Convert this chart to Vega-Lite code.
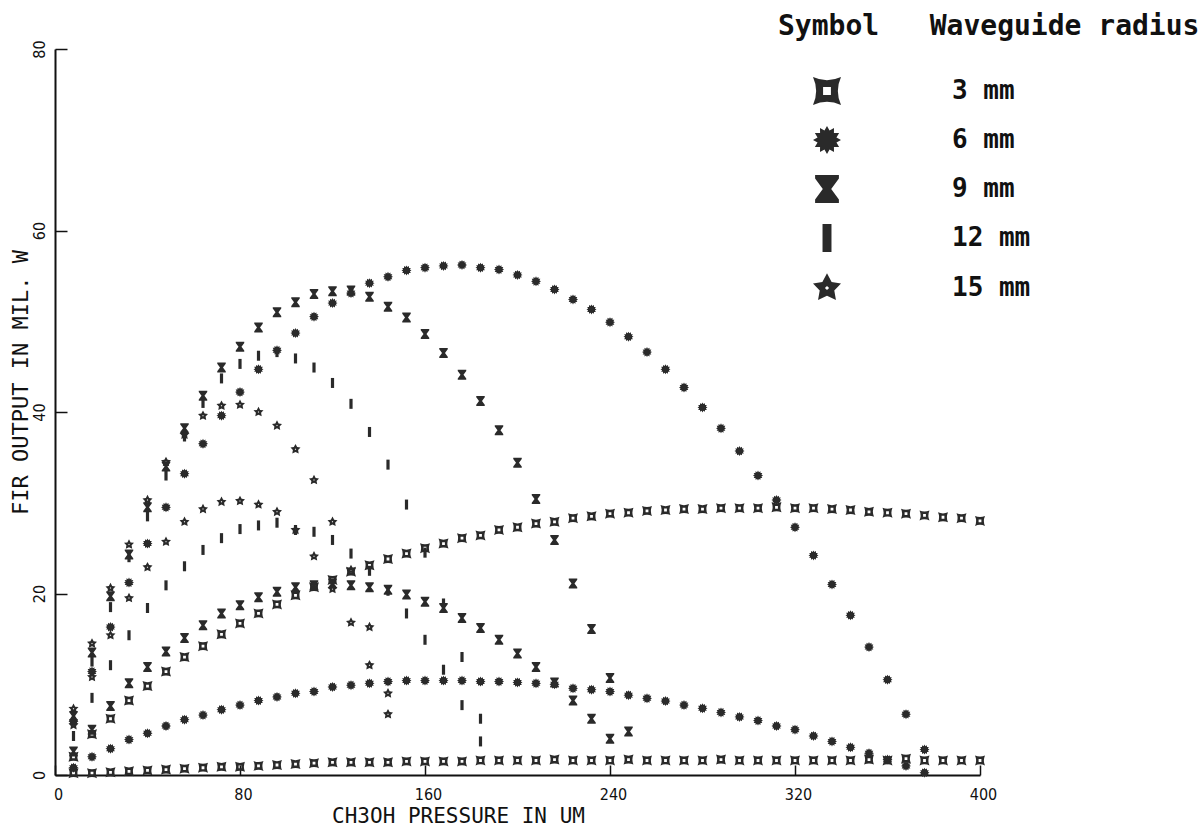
{
  "$schema": "https://vega.github.io/schema/vega-lite/v6.json",
  "width": 925,
  "height": 726,
  "autosize": {"type": "none"},
  "padding": {"left": 55, "top": 49, "right": 223, "bottom": 54},
  "background": "white",
  "config": {"view": {"stroke": null}},
  "datasets": {
    "pts": [
      {"pressure":8,"output":2.0,"radius":"3 mm"},{"pressure":16,"output":4.5,"radius":"3 mm"},{"pressure":24,"output":6.2,"radius":"3 mm"},{"pressure":32,"output":8.2,"radius":"3 mm"},{"pressure":40,"output":9.8,"radius":"3 mm"},{"pressure":48,"output":11.4,"radius":"3 mm"},{"pressure":56,"output":13.0,"radius":"3 mm"},{"pressure":64,"output":14.2,"radius":"3 mm"},{"pressure":72,"output":15.5,"radius":"3 mm"},{"pressure":80,"output":16.7,"radius":"3 mm"},{"pressure":88,"output":17.8,"radius":"3 mm"},{"pressure":96,"output":18.8,"radius":"3 mm"},{"pressure":104,"output":19.8,"radius":"3 mm"},{"pressure":112,"output":20.7,"radius":"3 mm"},{"pressure":120,"output":21.5,"radius":"3 mm"},{"pressure":128,"output":22.4,"radius":"3 mm"},{"pressure":136,"output":23.1,"radius":"3 mm"},{"pressure":144,"output":23.8,"radius":"3 mm"},{"pressure":152,"output":24.4,"radius":"3 mm"},{"pressure":160,"output":25.0,"radius":"3 mm"},{"pressure":168,"output":25.5,"radius":"3 mm"},{"pressure":176,"output":26.1,"radius":"3 mm"},{"pressure":184,"output":26.4,"radius":"3 mm"},{"pressure":192,"output":27.0,"radius":"3 mm"},{"pressure":200,"output":27.3,"radius":"3 mm"},{"pressure":208,"output":27.7,"radius":"3 mm"},{"pressure":216,"output":27.9,"radius":"3 mm"},{"pressure":224,"output":28.3,"radius":"3 mm"},{"pressure":232,"output":28.5,"radius":"3 mm"},{"pressure":240,"output":28.8,"radius":"3 mm"},{"pressure":248,"output":28.9,"radius":"3 mm"},{"pressure":256,"output":29.1,"radius":"3 mm"},{"pressure":264,"output":29.2,"radius":"3 mm"},{"pressure":272,"output":29.3,"radius":"3 mm"},{"pressure":280,"output":29.3,"radius":"3 mm"},{"pressure":288,"output":29.4,"radius":"3 mm"},{"pressure":296,"output":29.4,"radius":"3 mm"},{"pressure":304,"output":29.4,"radius":"3 mm"},{"pressure":312,"output":29.5,"radius":"3 mm"},{"pressure":320,"output":29.4,"radius":"3 mm"},{"pressure":328,"output":29.4,"radius":"3 mm"},{"pressure":336,"output":29.3,"radius":"3 mm"},{"pressure":344,"output":29.2,"radius":"3 mm"},{"pressure":352,"output":29.0,"radius":"3 mm"},{"pressure":360,"output":28.9,"radius":"3 mm"},{"pressure":368,"output":28.8,"radius":"3 mm"},{"pressure":376,"output":28.6,"radius":"3 mm"},{"pressure":384,"output":28.4,"radius":"3 mm"},{"pressure":392,"output":28.3,"radius":"3 mm"},{"pressure":400,"output":28.0,"radius":"3 mm"},

      {"pressure":8,"output":0.2,"radius":"3 mm"},{"pressure":16,"output":0.2,"radius":"3 mm"},{"pressure":24,"output":0.3,"radius":"3 mm"},{"pressure":32,"output":0.4,"radius":"3 mm"},{"pressure":40,"output":0.5,"radius":"3 mm"},{"pressure":48,"output":0.6,"radius":"3 mm"},{"pressure":56,"output":0.7,"radius":"3 mm"},{"pressure":64,"output":0.8,"radius":"3 mm"},{"pressure":72,"output":0.9,"radius":"3 mm"},{"pressure":80,"output":0.9,"radius":"3 mm"},{"pressure":88,"output":1.0,"radius":"3 mm"},{"pressure":96,"output":1.1,"radius":"3 mm"},{"pressure":104,"output":1.2,"radius":"3 mm"},{"pressure":112,"output":1.3,"radius":"3 mm"},{"pressure":120,"output":1.4,"radius":"3 mm"},{"pressure":128,"output":1.4,"radius":"3 mm"},{"pressure":136,"output":1.4,"radius":"3 mm"},{"pressure":144,"output":1.4,"radius":"3 mm"},{"pressure":152,"output":1.5,"radius":"3 mm"},{"pressure":160,"output":1.5,"radius":"3 mm"},{"pressure":168,"output":1.5,"radius":"3 mm"},{"pressure":176,"output":1.5,"radius":"3 mm"},{"pressure":184,"output":1.6,"radius":"3 mm"},{"pressure":192,"output":1.6,"radius":"3 mm"},{"pressure":200,"output":1.6,"radius":"3 mm"},{"pressure":208,"output":1.6,"radius":"3 mm"},{"pressure":216,"output":1.7,"radius":"3 mm"},{"pressure":224,"output":1.6,"radius":"3 mm"},{"pressure":232,"output":1.6,"radius":"3 mm"},{"pressure":240,"output":1.6,"radius":"3 mm"},{"pressure":248,"output":1.7,"radius":"3 mm"},{"pressure":256,"output":1.6,"radius":"3 mm"},{"pressure":264,"output":1.6,"radius":"3 mm"},{"pressure":272,"output":1.6,"radius":"3 mm"},{"pressure":280,"output":1.6,"radius":"3 mm"},{"pressure":288,"output":1.7,"radius":"3 mm"},{"pressure":296,"output":1.6,"radius":"3 mm"},{"pressure":304,"output":1.6,"radius":"3 mm"},{"pressure":312,"output":1.6,"radius":"3 mm"},{"pressure":320,"output":1.6,"radius":"3 mm"},{"pressure":328,"output":1.6,"radius":"3 mm"},{"pressure":336,"output":1.6,"radius":"3 mm"},{"pressure":344,"output":1.6,"radius":"3 mm"},{"pressure":352,"output":1.7,"radius":"3 mm"},{"pressure":360,"output":1.6,"radius":"3 mm"},{"pressure":368,"output":1.8,"radius":"3 mm"},{"pressure":376,"output":1.6,"radius":"3 mm"},{"pressure":384,"output":1.6,"radius":"3 mm"},{"pressure":392,"output":1.6,"radius":"3 mm"},{"pressure":400,"output":1.6,"radius":"3 mm"},

      {"pressure":8,"output":5.9,"radius":"6 mm"},{"pressure":16,"output":11.4,"radius":"6 mm"},{"pressure":24,"output":16.3,"radius":"6 mm"},{"pressure":32,"output":21.2,"radius":"6 mm"},{"pressure":40,"output":25.5,"radius":"6 mm"},{"pressure":48,"output":29.5,"radius":"6 mm"},{"pressure":56,"output":33.2,"radius":"6 mm"},{"pressure":64,"output":36.5,"radius":"6 mm"},{"pressure":72,"output":39.6,"radius":"6 mm"},{"pressure":80,"output":42.2,"radius":"6 mm"},{"pressure":88,"output":44.7,"radius":"6 mm"},{"pressure":96,"output":46.8,"radius":"6 mm"},{"pressure":104,"output":48.7,"radius":"6 mm"},{"pressure":112,"output":50.5,"radius":"6 mm"},{"pressure":120,"output":52.0,"radius":"6 mm"},{"pressure":128,"output":53.1,"radius":"6 mm"},{"pressure":136,"output":54.2,"radius":"6 mm"},{"pressure":144,"output":54.9,"radius":"6 mm"},{"pressure":152,"output":55.6,"radius":"6 mm"},{"pressure":160,"output":55.9,"radius":"6 mm"},{"pressure":168,"output":56.1,"radius":"6 mm"},{"pressure":176,"output":56.2,"radius":"6 mm"},{"pressure":184,"output":55.9,"radius":"6 mm"},{"pressure":192,"output":55.7,"radius":"6 mm"},{"pressure":200,"output":55.1,"radius":"6 mm"},{"pressure":208,"output":54.4,"radius":"6 mm"},{"pressure":216,"output":53.5,"radius":"6 mm"},{"pressure":224,"output":52.4,"radius":"6 mm"},{"pressure":232,"output":51.3,"radius":"6 mm"},{"pressure":240,"output":49.9,"radius":"6 mm"},{"pressure":248,"output":48.3,"radius":"6 mm"},{"pressure":256,"output":46.6,"radius":"6 mm"},{"pressure":264,"output":44.7,"radius":"6 mm"},{"pressure":272,"output":42.7,"radius":"6 mm"},{"pressure":280,"output":40.5,"radius":"6 mm"},{"pressure":288,"output":38.2,"radius":"6 mm"},{"pressure":296,"output":35.7,"radius":"6 mm"},{"pressure":304,"output":33.0,"radius":"6 mm"},{"pressure":312,"output":30.3,"radius":"6 mm"},{"pressure":320,"output":27.3,"radius":"6 mm"},{"pressure":328,"output":24.2,"radius":"6 mm"},{"pressure":336,"output":21.0,"radius":"6 mm"},{"pressure":344,"output":17.6,"radius":"6 mm"},{"pressure":352,"output":14.1,"radius":"6 mm"},{"pressure":360,"output":10.5,"radius":"6 mm"},{"pressure":368,"output":6.7,"radius":"6 mm"},{"pressure":376,"output":2.8,"radius":"6 mm"},

      {"pressure":8,"output":0.8,"radius":"6 mm"},{"pressure":16,"output":2.0,"radius":"6 mm"},{"pressure":24,"output":2.9,"radius":"6 mm"},{"pressure":32,"output":3.9,"radius":"6 mm"},{"pressure":40,"output":4.6,"radius":"6 mm"},{"pressure":48,"output":5.4,"radius":"6 mm"},{"pressure":56,"output":6.1,"radius":"6 mm"},{"pressure":64,"output":6.6,"radius":"6 mm"},{"pressure":72,"output":7.2,"radius":"6 mm"},{"pressure":80,"output":7.7,"radius":"6 mm"},{"pressure":88,"output":8.2,"radius":"6 mm"},{"pressure":96,"output":8.6,"radius":"6 mm"},{"pressure":104,"output":9.0,"radius":"6 mm"},{"pressure":112,"output":9.2,"radius":"6 mm"},{"pressure":120,"output":9.7,"radius":"6 mm"},{"pressure":128,"output":9.9,"radius":"6 mm"},{"pressure":136,"output":10.1,"radius":"6 mm"},{"pressure":144,"output":10.3,"radius":"6 mm"},{"pressure":152,"output":10.4,"radius":"6 mm"},{"pressure":160,"output":10.4,"radius":"6 mm"},{"pressure":168,"output":10.4,"radius":"6 mm"},{"pressure":176,"output":10.4,"radius":"6 mm"},{"pressure":184,"output":10.3,"radius":"6 mm"},{"pressure":192,"output":10.3,"radius":"6 mm"},{"pressure":200,"output":10.2,"radius":"6 mm"},{"pressure":208,"output":10.1,"radius":"6 mm"},{"pressure":216,"output":10.0,"radius":"6 mm"},{"pressure":224,"output":9.55,"radius":"6 mm"},{"pressure":232,"output":9.4,"radius":"6 mm"},{"pressure":240,"output":9.2,"radius":"6 mm"},{"pressure":248,"output":8.8,"radius":"6 mm"},{"pressure":256,"output":8.45,"radius":"6 mm"},{"pressure":264,"output":8.15,"radius":"6 mm"},{"pressure":272,"output":7.7,"radius":"6 mm"},{"pressure":280,"output":7.35,"radius":"6 mm"},{"pressure":288,"output":6.9,"radius":"6 mm"},{"pressure":296,"output":6.4,"radius":"6 mm"},{"pressure":304,"output":6.0,"radius":"6 mm"},{"pressure":312,"output":5.4,"radius":"6 mm"},{"pressure":320,"output":5.0,"radius":"6 mm"},{"pressure":328,"output":4.3,"radius":"6 mm"},{"pressure":336,"output":3.7,"radius":"6 mm"},{"pressure":344,"output":3.05,"radius":"6 mm"},{"pressure":352,"output":2.4,"radius":"6 mm"},{"pressure":360,"output":1.7,"radius":"6 mm"},{"pressure":368,"output":1.0,"radius":"6 mm"},{"pressure":376,"output":0.25,"radius":"6 mm"},

      {"pressure":8,"output":6.5,"radius":"9 mm"},{"pressure":16,"output":13.5,"radius":"9 mm"},{"pressure":24,"output":19.7,"radius":"9 mm"},{"pressure":32,"output":24.3,"radius":"9 mm"},{"pressure":40,"output":29.5,"radius":"9 mm"},{"pressure":48,"output":34.0,"radius":"9 mm"},{"pressure":56,"output":38.2,"radius":"9 mm"},{"pressure":64,"output":41.8,"radius":"9 mm"},{"pressure":72,"output":44.9,"radius":"9 mm"},{"pressure":80,"output":47.2,"radius":"9 mm"},{"pressure":88,"output":49.3,"radius":"9 mm"},{"pressure":96,"output":51.0,"radius":"9 mm"},{"pressure":104,"output":52.1,"radius":"9 mm"},{"pressure":112,"output":53.0,"radius":"9 mm"},{"pressure":120,"output":53.3,"radius":"9 mm"},{"pressure":128,"output":53.4,"radius":"9 mm"},{"pressure":136,"output":52.7,"radius":"9 mm"},{"pressure":144,"output":51.6,"radius":"9 mm"},{"pressure":152,"output":50.4,"radius":"9 mm"},{"pressure":160,"output":48.6,"radius":"9 mm"},{"pressure":168,"output":46.5,"radius":"9 mm"},{"pressure":176,"output":44.1,"radius":"9 mm"},{"pressure":184,"output":41.2,"radius":"9 mm"},{"pressure":192,"output":38.0,"radius":"9 mm"},{"pressure":200,"output":34.4,"radius":"9 mm"},{"pressure":208,"output":30.4,"radius":"9 mm"},{"pressure":216,"output":25.9,"radius":"9 mm"},{"pressure":224,"output":21.1,"radius":"9 mm"},{"pressure":232,"output":16.1,"radius":"9 mm"},{"pressure":240,"output":10.7,"radius":"9 mm"},{"pressure":248,"output":4.8,"radius":"9 mm"},

      {"pressure":8,"output":2.6,"radius":"9 mm"},{"pressure":16,"output":5.0,"radius":"9 mm"},{"pressure":24,"output":7.6,"radius":"9 mm"},{"pressure":32,"output":10.1,"radius":"9 mm"},{"pressure":40,"output":11.9,"radius":"9 mm"},{"pressure":48,"output":13.6,"radius":"9 mm"},{"pressure":56,"output":15.1,"radius":"9 mm"},{"pressure":64,"output":16.5,"radius":"9 mm"},{"pressure":72,"output":17.8,"radius":"9 mm"},{"pressure":80,"output":18.7,"radius":"9 mm"},{"pressure":88,"output":19.6,"radius":"9 mm"},{"pressure":96,"output":20.2,"radius":"9 mm"},{"pressure":104,"output":20.7,"radius":"9 mm"},{"pressure":112,"output":20.9,"radius":"9 mm"},{"pressure":120,"output":21.1,"radius":"9 mm"},{"pressure":128,"output":20.9,"radius":"9 mm"},{"pressure":136,"output":20.7,"radius":"9 mm"},{"pressure":144,"output":20.4,"radius":"9 mm"},{"pressure":152,"output":19.9,"radius":"9 mm"},{"pressure":160,"output":19.1,"radius":"9 mm"},{"pressure":168,"output":18.4,"radius":"9 mm"},{"pressure":176,"output":17.3,"radius":"9 mm"},{"pressure":184,"output":16.2,"radius":"9 mm"},{"pressure":192,"output":14.9,"radius":"9 mm"},{"pressure":200,"output":13.4,"radius":"9 mm"},{"pressure":208,"output":11.9,"radius":"9 mm"},{"pressure":216,"output":10.2,"radius":"9 mm"},{"pressure":224,"output":8.2,"radius":"9 mm"},{"pressure":232,"output":6.2,"radius":"9 mm"},{"pressure":240,"output":4.0,"radius":"9 mm"},

      {"pressure":8,"output":6.0,"radius":"12 mm"},{"pressure":16,"output":12.5,"radius":"12 mm"},{"pressure":24,"output":18.5,"radius":"12 mm"},{"pressure":32,"output":24.0,"radius":"12 mm"},{"pressure":40,"output":28.5,"radius":"12 mm"},{"pressure":48,"output":33.0,"radius":"12 mm"},{"pressure":56,"output":37.3,"radius":"12 mm"},{"pressure":64,"output":41.0,"radius":"12 mm"},{"pressure":72,"output":43.7,"radius":"12 mm"},{"pressure":80,"output":45.3,"radius":"12 mm"},{"pressure":88,"output":46.2,"radius":"12 mm"},{"pressure":96,"output":46.6,"radius":"12 mm"},{"pressure":104,"output":45.9,"radius":"12 mm"},{"pressure":112,"output":44.9,"radius":"12 mm"},{"pressure":120,"output":43.2,"radius":"12 mm"},{"pressure":128,"output":40.9,"radius":"12 mm"},{"pressure":136,"output":37.8,"radius":"12 mm"},{"pressure":144,"output":34.2,"radius":"12 mm"},{"pressure":152,"output":29.8,"radius":"12 mm"},{"pressure":160,"output":24.5,"radius":"12 mm"},{"pressure":168,"output":18.9,"radius":"12 mm"},{"pressure":176,"output":13.0,"radius":"12 mm"},{"pressure":184,"output":6.2,"radius":"12 mm"},

      {"pressure":8,"output":4.3,"radius":"12 mm"},{"pressure":16,"output":8.5,"radius":"12 mm"},{"pressure":24,"output":12.1,"radius":"12 mm"},{"pressure":32,"output":15.4,"radius":"12 mm"},{"pressure":40,"output":18.4,"radius":"12 mm"},{"pressure":48,"output":20.9,"radius":"12 mm"},{"pressure":56,"output":23.0,"radius":"12 mm"},{"pressure":64,"output":24.8,"radius":"12 mm"},{"pressure":72,"output":26.1,"radius":"12 mm"},{"pressure":80,"output":27.1,"radius":"12 mm"},{"pressure":88,"output":27.5,"radius":"12 mm"},{"pressure":96,"output":27.8,"radius":"12 mm"},{"pressure":104,"output":27.0,"radius":"12 mm"},{"pressure":112,"output":26.8,"radius":"12 mm"},{"pressure":120,"output":25.9,"radius":"12 mm"},{"pressure":128,"output":24.4,"radius":"12 mm"},{"pressure":136,"output":22.5,"radius":"12 mm"},{"pressure":144,"output":20.3,"radius":"12 mm"},{"pressure":152,"output":17.8,"radius":"12 mm"},{"pressure":160,"output":14.9,"radius":"12 mm"},{"pressure":168,"output":11.6,"radius":"12 mm"},{"pressure":176,"output":7.7,"radius":"12 mm"},{"pressure":184,"output":3.7,"radius":"12 mm"},

      {"pressure":8,"output":7.3,"radius":"15 mm"},{"pressure":16,"output":14.5,"radius":"15 mm"},{"pressure":24,"output":20.6,"radius":"15 mm"},{"pressure":32,"output":25.4,"radius":"15 mm"},{"pressure":40,"output":30.3,"radius":"15 mm"},{"pressure":48,"output":34.5,"radius":"15 mm"},{"pressure":56,"output":37.5,"radius":"15 mm"},{"pressure":64,"output":39.6,"radius":"15 mm"},{"pressure":72,"output":40.7,"radius":"15 mm"},{"pressure":80,"output":40.8,"radius":"15 mm"},{"pressure":88,"output":40.0,"radius":"15 mm"},{"pressure":96,"output":38.5,"radius":"15 mm"},{"pressure":104,"output":35.9,"radius":"15 mm"},{"pressure":112,"output":32.5,"radius":"15 mm"},{"pressure":120,"output":27.9,"radius":"15 mm"},{"pressure":128,"output":22.6,"radius":"15 mm"},{"pressure":136,"output":16.3,"radius":"15 mm"},{"pressure":144,"output":9.0,"radius":"15 mm"},

      {"pressure":8,"output":5.5,"radius":"15 mm"},{"pressure":16,"output":10.8,"radius":"15 mm"},{"pressure":24,"output":15.4,"radius":"15 mm"},{"pressure":32,"output":19.5,"radius":"15 mm"},{"pressure":40,"output":22.9,"radius":"15 mm"},{"pressure":48,"output":25.7,"radius":"15 mm"},{"pressure":56,"output":27.9,"radius":"15 mm"},{"pressure":64,"output":29.3,"radius":"15 mm"},{"pressure":72,"output":30.1,"radius":"15 mm"},{"pressure":80,"output":30.2,"radius":"15 mm"},{"pressure":88,"output":29.8,"radius":"15 mm"},{"pressure":96,"output":29.0,"radius":"15 mm"},{"pressure":104,"output":27.0,"radius":"15 mm"},{"pressure":112,"output":24.1,"radius":"15 mm"},{"pressure":120,"output":20.5,"radius":"15 mm"},{"pressure":128,"output":16.8,"radius":"15 mm"},{"pressure":136,"output":12.1,"radius":"15 mm"},{"pressure":144,"output":6.7,"radius":"15 mm"}
    ]
  },
  "data": {"name": "pts"},
  "layer": [
    {
      "mark": {"type": "point", "filled": true, "size": 100, "color": "#2a2a2a", "opacity": 1},
      "encoding": {
        "x": {
          "field": "pressure", "type": "quantitative",
          "scale": {"domain": [0, 400], "nice": false, "zero": false},
          "axis": {
            "orient": "bottom",
            "values": [0, 80, 160, 240, 320, 400],
            "title": "CH3OH PRESSURE IN UM",
            "grid": false, "ticks": false,
            "domainColor": "#111", "domainWidth": 2,
            "labelFont": "DejaVu Sans Condensed", "labelFontSize": 16, "labelColor": "#111",
            "labelPadding": 11, "labelOffset": 3, "labelFlush": false, "labelOverlap": false,
            "labelExpr": "datum.value == 0 ? '\u00a0\u00a0\u00a00' : datum.label",
            "titleFont": "DejaVu Sans Mono", "titleFontSize": 21, "titleFontWeight": "normal", "titleColor": "#111",
            "titleX": 403, "titleY": 47, "titleAlign": "center", "titleBaseline": "alphabetic"
          }
        },
        "y": {
          "field": "output", "type": "quantitative",
          "scale": {"domain": [0, 80], "nice": false, "zero": false},
          "axis": {
            "orient": "left",
            "values": [0, 20, 40, 60, 80],
            "title": "FIR OUTPUT IN MIL. W",
            "grid": false, "ticks": false,
            "domainColor": "#111", "domainWidth": 2,
            "labelFont": "DejaVu Sans Condensed", "labelFontSize": 16, "labelColor": "#111",
            "labelAngle": 270, "labelAlign": "center", "labelBaseline": "bottom",
            "labelPadding": 8, "labelFlush": false, "labelOverlap": false,
            "encode": {"labels": {"update": {"angle": {"value": 270}}}},
            "titleFont": "DejaVu Sans Mono", "titleFontSize": 22, "titleFontWeight": "normal", "titleColor": "#111",
            "titleAngle": 270, "titleX": -35, "titleY": 333, "titleAlign": "center", "titleBaseline": "middle"
          }
        },
        "shape": {
          "field": "radius", "type": "nominal",
          "scale": {
            "domain": ["3 mm", "6 mm", "9 mm", "12 mm", "15 mm"],
            "range": [
              "M-1,-1Q0,-0.55,1,-1Q0.55,0,1,1Q0,0.55,-1,1Q-0.55,0,-1,-1ZM-0.28,-0.28L-0.28,0.28L0.28,0.28L0.28,-0.28Z",
              "M1,0L0.676,0.181L0.866,0.5L0.495,0.495L0.5,0.866L0.181,0.676L0,1L-0.181,0.676L-0.5,0.866L-0.495,0.495L-0.866,0.5L-0.676,0.181L-1,0L-0.676,-0.181L-0.866,-0.5L-0.495,-0.495L-0.5,-0.866L-0.181,-0.676L0,-1L0.181,-0.676L0.5,-0.866L0.495,-0.495L0.866,-0.5L0.676,-0.181Z",
              "M-0.85,-1L0.85,-1L0.85,-0.75L0.3,0L0.85,0.75L0.85,1L-0.85,1L-0.85,0.75L-0.3,0L-0.85,-0.75Z",
              "M-0.32,-1L0.32,-1L0.32,1L-0.32,1Z",
              "M0,-1.05L0.33,-0.42L1,-0.33L0.52,0.17L0.64,0.86L0,0.55L-0.64,0.86L-0.52,0.17L-1,-0.33L-0.33,-0.42ZM-0.15,0L0,0.15L0.15,0L0,-0.15Z"
            ]
          },
          "legend": {
            "orient": "none", "legendX": 723, "legendY": -36, "padding": 0,
            "title": "Symbol\u00a0\u00a0\u00a0Waveguide radius",
            "titleFont": "DejaVu Sans Mono", "titleFontSize": 28, "titleFontWeight": "bold", "titleColor": "#111",
            "titleLimit": 1000, "titleBaseline": "top", "titlePadding": 36, "titleAnchor": "start",
            "symbolSize": 784, "symbolOffset": 35, "symbolFillColor": "#2a2a2a", "symbolStrokeWidth": 0, "symbolOpacity": 1,
            "labelFont": "DejaVu Sans Mono", "labelFontSize": 26, "labelFontWeight": "bold", "labelColor": "#111",
            "labelOffset": 111, "labelLimit": 500, "rowPadding": 21
          }
        }
      }
    },
    {
      "mark": {"type": "point", "opacity": 0},
      "encoding": {
        "x": {
          "field": "pressure", "type": "quantitative",
          "scale": {"domain": [0, 400], "nice": false, "zero": false},
          "axis": {
            "orient": "bottom",
            "values": [0, 80, 160, 240, 320, 400], "offset": -10,
            "title": null, "grid": false, "domain": false, "labels": false,
            "ticks": true, "tickSize": 10, "tickColor": "#111", "tickWidth": 1.5
          }
        },
        "y": {
          "field": "output", "type": "quantitative",
          "scale": {"domain": [0, 80], "nice": false, "zero": false},
          "axis": {
            "orient": "left",
            "values": [0, 20, 40, 60, 80], "offset": -12,
            "title": null, "grid": false, "domain": false, "labels": false,
            "ticks": true, "tickSize": 12, "tickColor": "#111", "tickWidth": 1.5
          }
        }
      }
    }
  ],
  "resolve": {"axis": {"x": "independent", "y": "independent"}}
}
